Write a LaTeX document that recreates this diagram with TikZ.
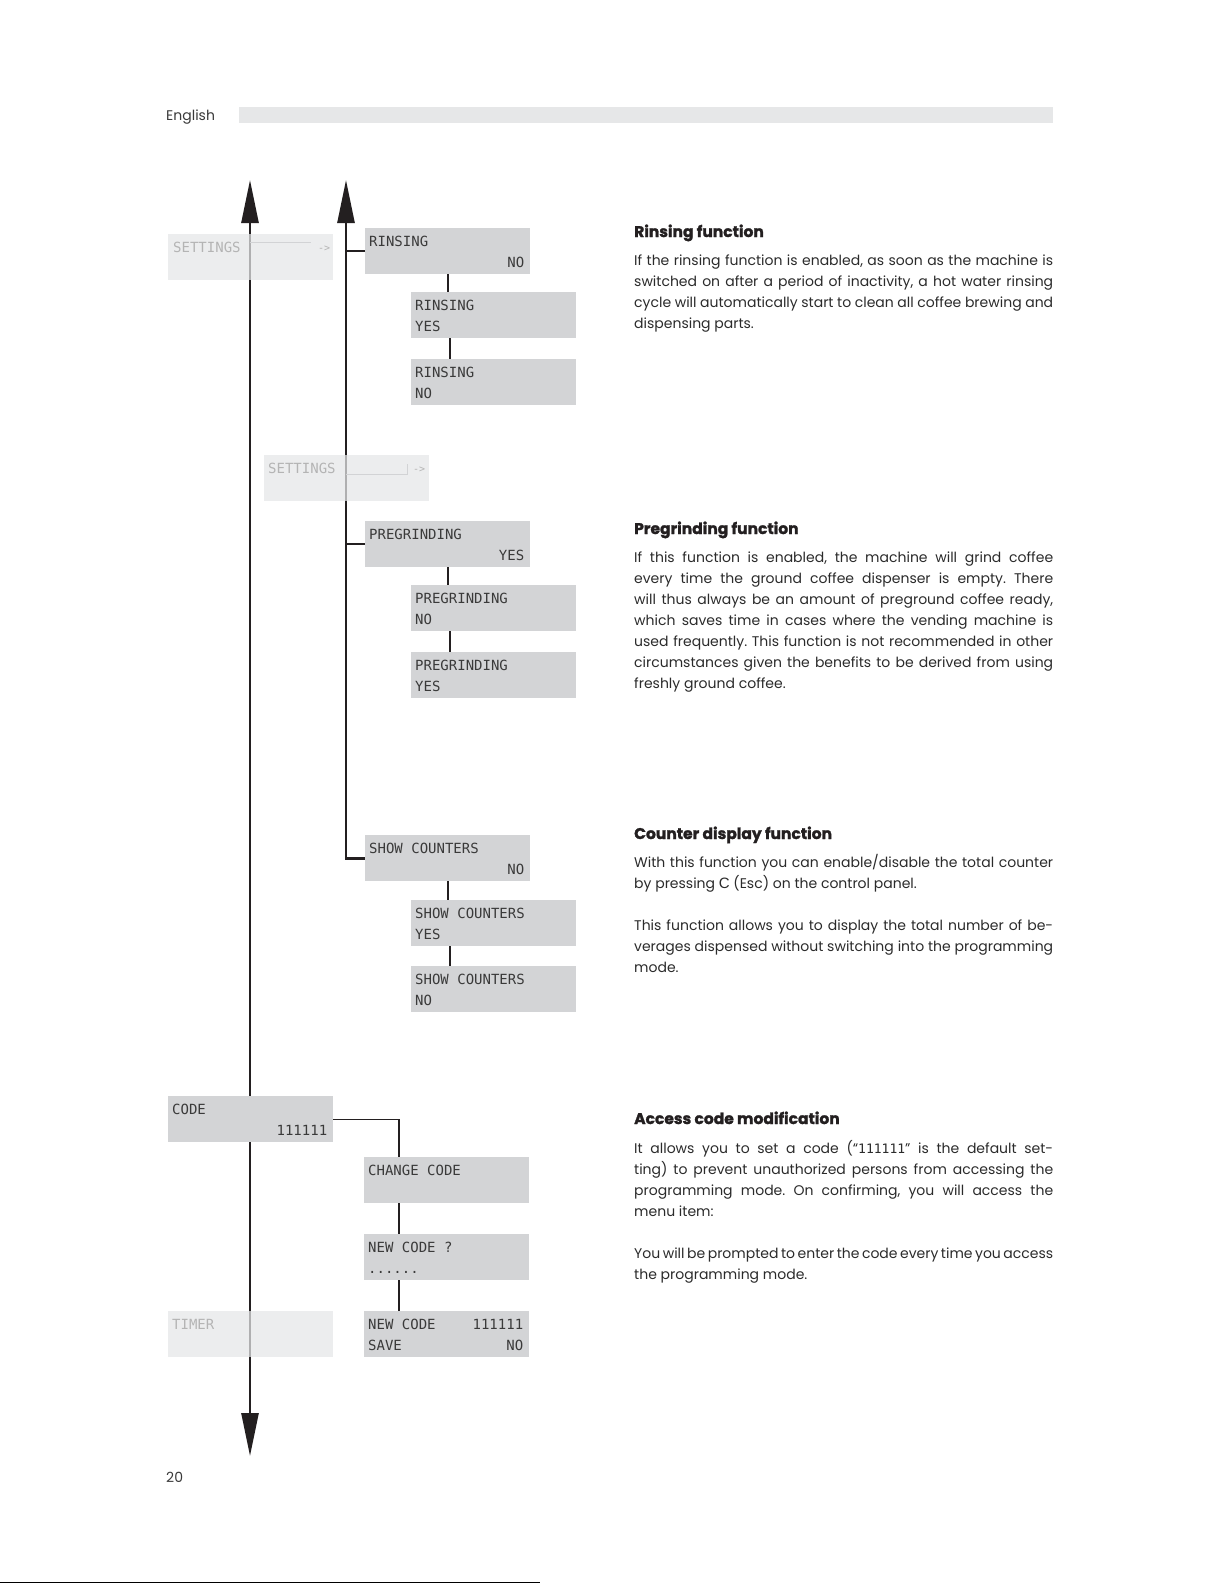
\documentclass[tikz,border=0pt]{standalone}
\usepackage{fontspec}
\setmainfont{Poppins}
\newfontfamily\headfont{Poppins}[BoldFeatures={FakeBold=1.6}]
\newfontfamily\lcdfont{DejaVu Sans Mono}
\newfontfamily\helvfont{Liberation Sans}
\usetikzlibrary{arrows.meta,calc}
\definecolor{lcdfill}{HTML}{D3D4D6}
\definecolor{fadefill}{HTML}{E6E7E8}
\definecolor{lcdtext}{HTML}{3A3A3A}
\definecolor{fadetext}{HTML}{B4B4B4}
\definecolor{ghost}{HTML}{D2D3D5}
\definecolor{ink}{HTML}{231F20}
\definecolor{bodytext}{HTML}{2B2B2B}
\tikzset{
  lcd/.style={fill=lcdfill, draw=none, minimum width=165pt, minimum height=46pt, inner sep=0pt, anchor=north west},
  fade/.style={lcd, fill=fadefill, fill opacity=0.72},
  lcdtxt/.style={font=\lcdfont\fontsize{14}{14}\selectfont, text=lcdtext, inner sep=0pt},
  ltxt/.style={lcdtxt, anchor=base west},
  rtxt/.style={lcdtxt, anchor=base east},
  ftxt/.style={lcdtxt, anchor=base west, text=fadetext},
  spine/.style={draw=ink, line width=2.6pt},
  branch/.style={draw=ink, line width=1.6pt},
  link/.style={draw=ink, line width=2pt},
  thinlink/.style={draw=ink, line width=1.3pt},
  body/.style={font=\frenchspacing\fontsize{14}{21}\selectfont, text=bodytext, inner sep=0pt, anchor=base west},
  titletxt/.style={font=\headfont\bfseries\fontsize{15.5}{18}\selectfont, text=ink, inner sep=0pt, anchor=base west},
}
\newcommand\lcdtwo[6]{%
  \node[lcd] (#1) at (#2,#3) {};
  \node[ltxt] (#1-a) at ($(#1.north west)+(4,18)$) {#4};
  \node[ltxt] (#1-b) at ($(#1.north west)+(4,39)$) {#5};
  \node[rtxt] (#1-c) at ($(#1.north east)+(-6,39)$) {#6};
}
\newcommand\jline[3]{\node[body] (#1) at (634,#2) {\makebox[419pt][s]{#3}};}
\newcommand\pline[3]{\node[body] (#1) at (634,#2) {#3};}
\begin{document}
\begin{tikzpicture}[x=1pt,y=-1pt]
\useasboundingbox[fill=white] (0,0) rectangle (1220,1583);

% header
\node[font=\fontsize{14}{16}\selectfont, text=lcdtext, inner sep=0pt, anchor=base west] (english) at (166,120) {English};
\fill[fadefill] (239,107) rectangle (1053,123);
\node[font=\fontsize{14}{16}\selectfont, text=lcdtext, inner sep=0pt, anchor=base west] (pagenum) at (166,1482) {20};
\draw[line width=1pt, black] (0,1582.5) -- (540,1582.5);

% spines
\coordinate (s1top) at (250,180);
\coordinate (s1bot) at (250,1456);
\coordinate (s2top) at (346,180);
\draw[spine, {Triangle[length=43pt,width=17pt]}-{Triangle[length=43pt,width=17pt]}] (s1top) -- (s1bot);

% menu boxes (active)
\lcdtwo{rins1}{365}{228}{RINSING}{}{NO}
\lcdtwo{rins2}{411}{292}{RINSING}{YES}{}
\lcdtwo{rins3}{411}{359}{RINSING}{NO}{}
\lcdtwo{preg1}{365}{521}{PREGRINDING}{}{YES}
\lcdtwo{preg2}{411}{585}{PREGRINDING}{NO}{}
\lcdtwo{preg3}{411}{652}{PREGRINDING}{YES}{}
\lcdtwo{sc1}{365}{835}{SHOW COUNTERS}{}{NO}
\lcdtwo{sc2}{411}{900}{SHOW COUNTERS}{YES}{}
\lcdtwo{sc3}{411}{966}{SHOW COUNTERS}{NO}{}
\lcdtwo{code}{168}{1096}{CODE}{}{111111}
\lcdtwo{cc}{364}{1157}{CHANGE CODE}{}{}
\lcdtwo{nc}{364}{1234}{NEW CODE ?}{......}{}
\lcdtwo{ns}{364}{1311}{NEW CODE}{SAVE}{NO}
\node[rtxt] (ns-d) at ($(ns.north east)+(-6,18)$) {111111};

% second spine
\draw[spine, {Triangle[length=43pt,width=17pt]}-] (s2top) |- (sc1.west);
\draw[branch] (rins1.west) -- (rins1.west -| s2top);
\draw[branch] (preg1.west) -- (preg1.west -| s2top);

% vertical links
\draw[link] (rins1.south) -- (rins1.south |- rins2.north);
\draw[link] (rins2.south) ++(-44,0) coordinate (r2s) -- (r2s |- rins3.north);
\draw[link] (preg1.south) -- (preg1.south |- preg2.north);
\draw[link] (preg2.south) ++(-44,0) coordinate (p2s) -- (p2s |- preg3.north);
\draw[link] (sc1.south) -- (sc1.south |- sc2.north);
\draw[link] (sc2.south) ++(-44,0) coordinate (c2s) -- (c2s |- sc3.north);

% code links
\coordinate (cx) at ($(cc.north west)+(35,0)$);
\draw[thinlink] (code.east) -| (cx);
\draw[thinlink] (cc.south -| cx) -- (nc.north -| cx);
\draw[thinlink] (nc.south -| cx) -- (ns.north -| cx);

% faded boxes
\node[fade] (set1) at (168,234) {};
\node[ftxt] (set1-a) at (173,252) {SETTINGS};
\node[ftxt, font=\lcdfont\fontsize{10}{10}\selectfont] (set1-b) at (318,251) {->};
\draw[ghost, line width=0.8pt] (250,242) -- (311,242);
\node[fade] (set2) at (264,455) {};
\node[ftxt] (set2-a) at (268,473) {SETTINGS};
\node[ftxt, font=\lcdfont\fontsize{10}{10}\selectfont] (set2-b) at (413,472) {->};
\draw[ghost, line width=0.8pt] (346,474) -- (407,474) -- (407,464);
\node[fade] (timer) at (168,1311) {};
\node[ftxt] (timer-a) at (172,1329) {TIMER};

% right column
\node[titletxt] (t1) at (634,237) {Rinsing function};
\jline{r1}{265}{If the rinsing function is enabled, as soon as the machine is}
\jline{r2}{286}{switched on after a period of inactivity, a hot water rinsing}
\jline{r3}{307}{cycle will automatically start to clean all coffee brewing and}
\pline{r4}{328}{dispensing parts.}

\node[titletxt] (t2) at (634,534) {Pregrinding function};
\jline{p1}{562.5}{If this function is enabled, the machine will grind coffee}
\jline{p2}{583.5}{every time the ground coffee dispenser is empty. There}
\jline{p3}{604.5}{will thus always be an amount of preground coffee ready,}
\jline{p4}{625.5}{which saves time in cases where the vending machine is}
\jline{p5}{646.5}{used frequently. This function is not recommended in other}
\jline{p6}{667.5}{circumstances given the benefits to be derived from using}
\pline{p7}{688.5}{freshly ground coffee.}

\node[titletxt] (t3) at (634,839) {Counter display function};
\jline{c1}{867.5}{With this function you can enable/disable the total counter}
\pline{c2}{888.5}{by pressing {\helvfont\fontsize{15}{21}\selectfont C} (Esc) on the control panel.}
\jline{c3}{930.5}{This function allows you to display the total number of be-}
\jline{c4}{951.5}{verages dispensed without switching into the programming}
\pline{c5}{972.5}{mode.}

\node[titletxt] (t4) at (634,1124) {Access code modification};
\jline{a1}{1153}{It allows you to set a code (“{\lcdfont\fontsize{13}{21}\selectfont 111111}” is the default set-}
\jline{a2}{1174}{ting) to prevent unauthorized persons from accessing the}
\jline{a3}{1195}{programming mode. On confirming, you will access the}
\pline{a4}{1216}{menu item:}
\jline{a5}{1258}{You will be prompted to enter the code every time you access}
\pline{a6}{1279}{the programming mode.}
\end{tikzpicture}
\end{document}
